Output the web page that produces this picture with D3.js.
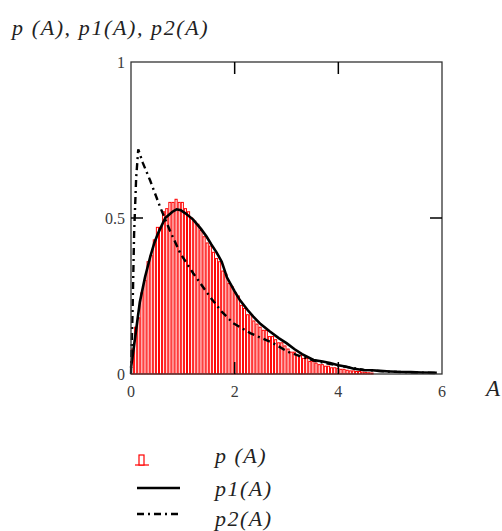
<html lang="en">
<head>
<meta charset="utf-8">
<title>p(A)</title>
<script src="https://d3js.org/d3.v7.min.js"></script>
<style>
  body { margin: 0; background: #fff; }
</style>
</head>
<body>
<div class="chart"></div>
<script>
// histogram p(A): bin width 0.06, starting at A = 0
const binWidth = 0.06;
const histValues = [0.08, 0.15, 0.18, 0.26, 0.30, 0.36, 0.38, 0.43, 0.47, 0.47,
  0.52, 0.53, 0.55, 0.55, 0.56, 0.55, 0.55, 0.53, 0.52, 0.50,
  0.49, 0.48, 0.46, 0.44, 0.42, 0.41, 0.39, 0.37, 0.36, 0.33,
  0.32, 0.29, 0.28, 0.26, 0.25, 0.22, 0.21, 0.19, 0.19, 0.17,
  0.16, 0.15, 0.14, 0.14, 0.12, 0.12, 0.11, 0.10, 0.10, 0.09,
  0.08, 0.07, 0.07, 0.06, 0.06, 0.05, 0.05, 0.04, 0.04, 0.035,
  0.03, 0.03, 0.025, 0.025, 0.02, 0.02, 0.018, 0.015, 0.015, 0.012,
  0.01, 0.01, 0.008, 0.008, 0.006, 0.005, 0.004, 0.003];

// p1(A) solid curve
const p1A = [0, 0.05, 0.17, 0.27, 0.37, 0.45, 0.52, 0.66, 0.8, 0.88, 0.96, 1.05, 1.2, 1.35, 1.46, 1.55, 1.65, 1.75, 1.85,
  2.0, 2.1, 2.25, 2.36, 2.5, 2.68, 2.85, 3.0, 3.15, 3.3, 3.52, 3.7, 3.84, 4.0, 4.16, 4.3, 4.48, 4.65, 4.8, 5.0, 5.13, 5.4, 5.6, 5.9];
const p1V = [0.02, 0.08, 0.23, 0.31, 0.375, 0.42, 0.45, 0.50, 0.52, 0.528, 0.525, 0.515, 0.495, 0.465, 0.44, 0.415, 0.39, 0.36, 0.31,
  0.265, 0.237, 0.205, 0.184, 0.16, 0.136, 0.115, 0.099, 0.08, 0.064, 0.045, 0.04, 0.035, 0.028, 0.023, 0.017, 0.013, 0.012, 0.01, 0.008, 0.007, 0.006, 0.005, 0.004];

// p2(A) dash-dot curve
const p2A = [0, 0.03, 0.06, 0.1, 0.14, 0.23, 0.37, 0.56, 0.75, 0.95, 1.2, 1.52, 1.75, 1.97, 2.3, 2.74, 3.03, 3.3, 3.6, 4.0, 4.5, 5.0, 5.5, 5.9];
const p2V = [0.0, 0.2, 0.45, 0.63, 0.72, 0.676, 0.62, 0.536, 0.46, 0.387, 0.323, 0.248, 0.2, 0.163, 0.131, 0.099, 0.071, 0.055, 0.04, 0.027, 0.013, 0.007, 0.005, 0.003];

const xTicks = [0, 2, 4, 6];
const yTicks = [0, 0.5, 1];
const legendLabels = ["p (A)", "p1(A)", "p2(A)"];

const serif = "'Liberation Serif', 'DejaVu Serif', 'Times New Roman', serif";
const width = 502, height = 531;
const svg = d3.select(".chart").append("svg")
  .attr("width", width).attr("height", height);

const x = d3.scaleLinear().domain([0, 6]).range([131, 442]);
const y = d3.scaleLinear().domain([0, 1]).range([374, 62]);

/* histogram bars */
svg.selectAll(".bar")
  .data(histValues)
  .enter()
  .append("rect")
  .attr("class", "bar")
  .attr("x", (d, i) => x(i * binWidth) + 0.5)
  .attr("y", d => y(d))
  .attr("width", (d, i) => x((i + 1) * binWidth) - x(i * binWidth) - 1)
  .attr("height", d => y(0) - y(d))
  .attr("fill", "#fff")
  .attr("stroke", "#ff0000")
  .attr("stroke-width", 1);

/* curves */
const line = d3.line().x(d => x(d[0])).y(d => y(d[1]));
svg.append("path")
  .datum(p1A.map((a, i) => [a, p1V[i]]))
  .attr("d", line)
  .attr("fill", "none")
  .attr("stroke", "#000")
  .attr("stroke-width", 2.6);
svg.append("path")
  .datum(p2A.map((a, i) => [a, p2V[i]]))
  .attr("d", line)
  .attr("fill", "none")
  .attr("stroke", "#000")
  .attr("stroke-width", 2.4)
  .attr("stroke-dasharray", "7,4,2,4");

/* frame */
svg.append("rect")
  .attr("x", x(0)).attr("y", y(1))
  .attr("width", x(6) - x(0)).attr("height", y(0) - y(1))
  .attr("fill", "none").attr("stroke", "#333").attr("stroke-width", 1.3);

/* inward ticks on all four sides */
const tl = 12;
xTicks.slice(1, -1).forEach(t => {
  svg.append("line").attr("x1", x(t)).attr("x2", x(t)).attr("y1", y(0)).attr("y2", y(0) - tl)
    .attr("stroke", "#000").attr("stroke-width", 1.5);
  svg.append("line").attr("x1", x(t)).attr("x2", x(t)).attr("y1", y(1)).attr("y2", y(1) + tl)
    .attr("stroke", "#000").attr("stroke-width", 1.5);
});
yTicks.slice(1, -1).forEach(t => {
  svg.append("line").attr("x1", x(0)).attr("x2", x(0) + tl).attr("y1", y(t)).attr("y2", y(t))
    .attr("stroke", "#000").attr("stroke-width", 1.5);
  svg.append("line").attr("x1", x(6)).attr("x2", x(6) - tl).attr("y1", y(t)).attr("y2", y(t))
    .attr("stroke", "#000").attr("stroke-width", 1.5);
});

/* tick labels */
svg.selectAll(".xt").data(xTicks).enter().append("text")
  .attr("x", d => x(d)).attr("y", y(0) + 23)
  .attr("font-family", serif)
  .attr("text-anchor", "middle").attr("font-size", 16).attr("fill", "#3a3a3a")
  .text(d => d);
svg.selectAll(".yt").data(yTicks).enter().append("text")
  .attr("x", x(0) - 6).attr("y", d => y(d) + 6)
  .attr("font-family", serif)
  .attr("text-anchor", "end").attr("font-size", 16).attr("fill", "#3a3a3a")
  .text(d => d);

/* axis titles */
svg.append("text").attr("x", 12).attr("y", 35)
  .attr("font-family", serif)
  .attr("font-size", 22).attr("font-style", "italic").attr("fill", "#222")
  .attr("letter-spacing", 1.6)
  .text("p (A), p1(A), p2(A)");
svg.append("text").attr("x", 486).attr("y", 396)
  .attr("font-family", serif)
  .attr("font-size", 23).attr("font-style", "italic").attr("fill", "#222")
  .text("A");

/* legend */
const lg = svg.append("g");
const ly = [460, 488, 514];
lg.append("line").attr("x1", 135).attr("x2", 149).attr("y1", ly[0] + 5).attr("y2", ly[0] + 5)
  .attr("stroke", "#ff0000").attr("stroke-width", 1.2);
lg.append("rect").attr("x", 139).attr("y", ly[0] - 5).attr("width", 5).attr("height", 10)
  .attr("fill", "#fff").attr("stroke", "#ff0000").attr("stroke-width", 1.2);
lg.append("line").attr("x1", 137).attr("x2", 180).attr("y1", ly[1]).attr("y2", ly[1])
  .attr("stroke", "#000").attr("stroke-width", 2.6);
lg.append("line").attr("x1", 137).attr("x2", 180).attr("y1", ly[2]).attr("y2", ly[2])
  .attr("stroke", "#000").attr("stroke-width", 2.4).attr("stroke-dasharray", "7,4,2,4");
lg.selectAll(".lt").data(legendLabels).enter().append("text")
  .attr("x", 215).attr("y", (d, i) => ly[i] + [3, 8, 12][i])
  .attr("font-family", serif)
  .attr("font-size", 22).attr("font-style", "italic").attr("fill", "#222")
  .attr("letter-spacing", 1.5)
  .text(d => d);
</script>
</body>
</html>
